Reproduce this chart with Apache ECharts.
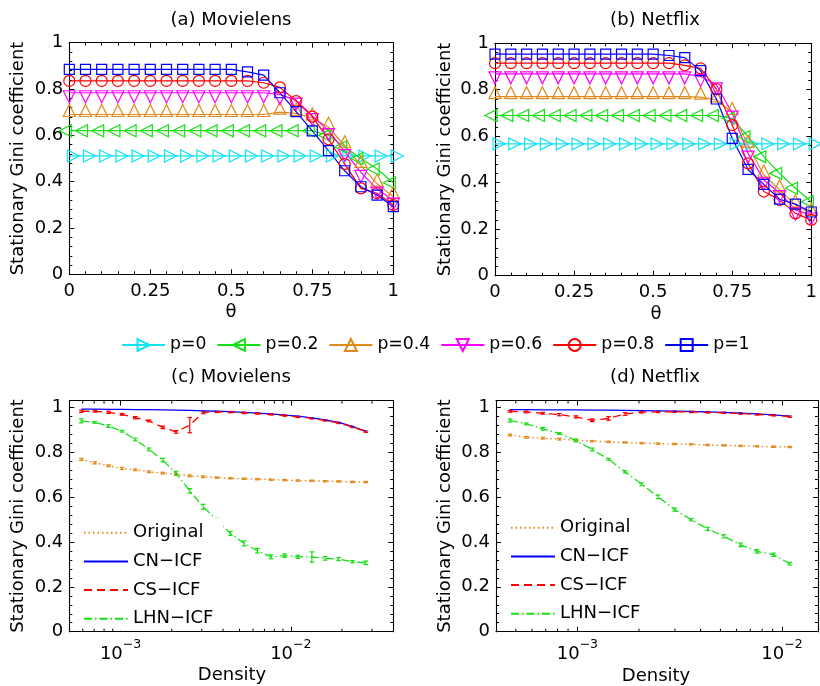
<!DOCTYPE html>
<html>
<head>
<meta charset="utf-8">
<script src="https://cdn.jsdelivr.net/npm/echarts@6/dist/echarts.min.js"></script>
<style>
html,body{margin:0;padding:0;background:#fff;}
#chart{width:820px;height:686px;}
</style>
</head>
<body>
<div id="chart"></div>
<script>
// ---------------- data ----------------
const theta = [0,0.05,0.1,0.15,0.2,0.25,0.3,0.35,0.4,0.45,0.5,0.55,0.6,0.65,0.7,0.75,0.8,0.85,0.9,0.95,1];
const pNames = ['p=0','p=0.2','p=0.4','p=0.6','p=0.8','p=1'];

// (a) Movielens
const movP0  = [0.511,0.511,0.511,0.511,0.511,0.511,0.511,0.511,0.511,0.511,0.511,0.511,0.511,0.511,0.511,0.511,0.511,0.511,0.511,0.511,0.511];
const movP02 = [0.620,0.620,0.620,0.620,0.620,0.620,0.620,0.620,0.620,0.620,0.620,0.620,0.620,0.620,0.620,0.620,0.600,0.550,0.500,0.455,0.395];
const movP04 = [0.690,0.690,0.690,0.690,0.690,0.690,0.690,0.690,0.690,0.690,0.690,0.690,0.690,0.700,0.695,0.675,0.635,0.555,0.470,0.390,0.335];
const movP06 = [0.784,0.784,0.784,0.784,0.784,0.784,0.784,0.784,0.784,0.784,0.784,0.784,0.784,0.776,0.752,0.685,0.620,0.530,0.440,0.368,0.320];
const movP08 = [0.835,0.835,0.835,0.835,0.835,0.835,0.835,0.835,0.835,0.835,0.835,0.835,0.827,0.807,0.748,0.681,0.583,0.476,0.371,0.350,0.299];
const movP1  = [0.885,0.885,0.885,0.885,0.885,0.885,0.885,0.885,0.885,0.885,0.885,0.874,0.860,0.784,0.702,0.619,0.534,0.447,0.378,0.342,0.292];

// (b) Netflix
const netP0  = [0.567,0.567,0.567,0.567,0.567,0.567,0.567,0.567,0.567,0.567,0.567,0.567,0.567,0.567,0.567,0.567,0.567,0.567,0.567,0.567,0.567];
const netP02 = [0.689,0.689,0.689,0.689,0.689,0.689,0.689,0.689,0.689,0.689,0.689,0.689,0.689,0.689,0.689,0.677,0.598,0.512,0.440,0.376,0.318];
const netP04 = [0.770,0.770,0.770,0.770,0.770,0.770,0.770,0.770,0.770,0.770,0.770,0.770,0.770,0.768,0.756,0.702,0.562,0.433,0.369,0.304,0.268];
const netP06 = [0.868,0.868,0.868,0.868,0.868,0.868,0.868,0.868,0.868,0.868,0.868,0.868,0.868,0.857,0.821,0.699,0.527,0.412,0.357,0.283,0.261];
const netP08 = [0.914,0.914,0.914,0.914,0.914,0.914,0.914,0.914,0.914,0.914,0.914,0.914,0.905,0.892,0.802,0.648,0.483,0.362,0.326,0.268,0.240];
const netP1  = [0.953,0.953,0.953,0.953,0.953,0.953,0.953,0.953,0.953,0.953,0.953,0.947,0.938,0.882,0.760,0.591,0.457,0.393,0.329,0.308,0.274];

// (c) Movielens, density
const densC = [5.88e-4,7.06e-4,8.49e-4,1.02e-3,1.22e-3,1.47e-3,1.77e-3,2.12e-3,2.55e-3,3.06e-3,3.68e-3,4.42e-3,5.31e-3,6.37e-3,7.65e-3,9.19e-3,1.10e-2,1.33e-2,1.59e-2,1.91e-2,2.30e-2,2.76e-2];
const cOrig   = [0.768,0.753,0.740,0.728,0.722,0.713,0.707,0.702,0.695,0.691,0.687,0.684,0.682,0.680,0.678,0.676,0.674,0.673,0.671,0.670,0.668,0.667];
const cOrigErr= [0.005,0.005,0.004,0.005,0.004,0.004,0.004,0.004,0.004,0.004,0.003,0.003,0.003,0.003,0.003,0.003,0.003,0.003,0.003,0.003,0.003,0.003];
const cCN     = [0.992,0.992,0.991,0.991,0.990,0.990,0.989,0.988,0.987,0.985,0.983,0.981,0.978,0.975,0.971,0.966,0.961,0.953,0.944,0.933,0.915,0.894];
const cCS     = [0.983,0.983,0.978,0.969,0.954,0.940,0.911,0.891,0.921,0.978,0.980,0.979,0.976,0.973,0.969,0.964,0.958,0.951,0.942,0.931,0.913,0.892];
const cCSErr  = [0.005,0.004,0.005,0.004,0.005,0.004,0.006,0.006,0.034,0.006,0.003,0.003,0.003,0.003,0.003,0.003,0.003,0.003,0.003,0.003,0.003,0.003];
const cLHN    = [0.940,0.933,0.917,0.894,0.857,0.813,0.765,0.706,0.628,0.557,0.498,0.438,0.394,0.361,0.334,0.339,0.334,0.333,0.327,0.324,0.312,0.307];
const cLHNErr = [0.009,0.004,0.006,0.004,0.006,0.006,0.008,0.009,0.010,0.011,0.008,0.009,0.011,0.010,0.009,0.008,0.007,0.023,0.008,0.007,0.005,0.008];

// (d) Netflix, density
const densD = [4.68e-4,5.63e-4,6.78e-4,8.16e-4,9.83e-4,1.18e-3,1.42e-3,1.71e-3,2.06e-3,2.48e-3,2.99e-3,3.60e-3,4.33e-3,5.21e-3,6.27e-3,7.55e-3,9.09e-3,1.09e-2];
const dOrig   = [0.876,0.866,0.862,0.858,0.853,0.849,0.846,0.843,0.840,0.838,0.836,0.835,0.832,0.830,0.828,0.826,0.824,0.823];
const dOrigErr= [0.004,0.004,0.004,0.004,0.004,0.003,0.003,0.003,0.003,0.003,0.003,0.003,0.003,0.003,0.003,0.003,0.003,0.003];
const dCN     = [0.989,0.989,0.988,0.988,0.988,0.987,0.987,0.986,0.985,0.984,0.983,0.981,0.979,0.977,0.974,0.970,0.966,0.960];
const dCS     = [0.982,0.979,0.973,0.967,0.957,0.942,0.950,0.970,0.978,0.979,0.980,0.979,0.977,0.975,0.972,0.968,0.964,0.958];
const dCSErr  = [0.004,0.004,0.004,0.005,0.005,0.006,0.008,0.006,0.004,0.003,0.003,0.003,0.003,0.003,0.003,0.003,0.003,0.003];
const dLHN    = [0.941,0.926,0.904,0.883,0.852,0.812,0.768,0.712,0.657,0.601,0.544,0.499,0.458,0.425,0.387,0.358,0.343,0.303];
const dLHNErr = [0.007,0.004,0.006,0.004,0.006,0.006,0.004,0.005,0.006,0.008,0.007,0.005,0.007,0.007,0.008,0.008,0.007,0.006];

const bottomNames = ['Original','CN\u2212ICF','CS\u2212ICF','LHN\u2212ICF'];
const thetaTicks = [0,0.25,0.5,0.75,1];
const logMinorC = [6e-4,7e-4,8e-4,9e-4,2e-3,3e-3,4e-3,5e-3,6e-3,7e-3,8e-3,9e-3,2e-2,3e-2];
const logMinorD = [5e-4,6e-4,7e-4,8e-4,9e-4,2e-3,3e-3,4e-3,5e-3,6e-3,7e-3,8e-3,9e-3];

// ---------------- styling ----------------
const FONT = 'DejaVu Sans';
const C = {cyan:'#12e2f2', green:'#14e014', orange:'#e0891c', magenta:'#ff00ff', red:'#ff0000', blue:'#0000ff'};
const G = [
  {left:69.3, top:42.7, width:324, height:231.6},
  {left:495, top:43.2, width:323.3, height:232.5},
  {left:69.3, top:400.7, width:324, height:231},
  {left:496, top:400.5, width:322, height:231.2}
];

function linAxisX(gi, pos) {
  return {
    type:'value', gridIndex:gi, position:pos, min:0, max:1, interval:0.25,
    axisLine:{show:true, onZero:false, lineStyle:{color:'#000', width:1.1}},
    axisTick:{show:true, inside:true, length:5, lineStyle:{color:'#000'}},
    minorTick:{show:true, splitNumber:5, length:3, lineStyle:{color:'#000'}},
    axisLabel:{show:pos==='bottom', fontFamily:FONT, fontSize:18, color:'#000', margin:8},
    splitLine:{show:false}, minorSplitLine:{show:false}
  };
}
function linAxisY(gi, pos, max) {
  return {
    type:'value', gridIndex:gi, position:pos, min:0, max:max, interval:0.2,
    axisLine:{show:true, onZero:false, lineStyle:{color:'#000', width:1.1}},
    axisTick:{show:true, inside:true, length:5, lineStyle:{color:'#000'}},
    minorTick:{show:true, splitNumber:5, length:3, lineStyle:{color:'#000'}},
    axisLabel:{show:pos==='left', fontFamily:FONT, fontSize:18, color:'#000', margin:6, showMaxLabel: max===1,
      formatter: v => (Math.abs(v*5 - Math.round(v*5)) < 1e-6 ? String(+v.toFixed(1)) : '')},
    splitLine:{show:false}, minorSplitLine:{show:false}
  };
}
function logAxisX(gi, pos, mn, mx) {
  return {
    type:'log', logBase:10, gridIndex:gi, position:pos, min:mn, max:mx,
    axisLine:{show:true, onZero:false, lineStyle:{color:'#000', width:1.1}},
    axisTick:{show:true, inside:true, length:5, lineStyle:{color:'#000'}},
    axisLabel:{show:pos==='bottom', margin:7, showMinLabel:false, showMaxLabel:false,
      formatter: v => { const l = Math.log10(v); const e = Math.round(l);
        if (Math.abs(l-e) > 1e-6) return '';
        return '{b|10}{s|' + (e<0 ? '\u2212' : '') + Math.abs(e) + '}'; },
      rich:{
        b:{fontFamily:FONT, fontSize:18, color:'#000', lineHeight:25, verticalAlign:'bottom'},
        s:{fontFamily:FONT, fontSize:12.5, color:'#000', lineHeight:25, verticalAlign:'top'}
      }},
    splitLine:{show:false}
  };
}

const xAxes = [
  linAxisX(0,'bottom'), linAxisX(0,'top'),
  linAxisX(1,'bottom'), linAxisX(1,'top'),
  logAxisX(2,'bottom',5e-4,4e-2), logAxisX(2,'top',5e-4,4e-2),
  logAxisX(3,'bottom',4e-4,1.5e-2), logAxisX(3,'top',4e-4,1.5e-2)
];
const yAxes = [
  linAxisY(0,'left',1), linAxisY(0,'right',1),
  linAxisY(1,'left',1), linAxisY(1,'right',1),
  linAxisY(2,'left',1.03), linAxisY(2,'right',1.03),
  linAxisY(3,'left',1.03), linAxisY(3,'right',1.03)
];

const markerDefs = [
  {name:pNames[0], color:C.cyan,    symbol:'triangle', rotate:-90, offset:[4,0],  size:12},
  {name:pNames[1], color:C.green,   symbol:'triangle', rotate:90,  offset:[-4,0], size:12},
  {name:pNames[2], color:C.orange,  symbol:'triangle', rotate:0,   offset:[0,-4], size:12},
  {name:pNames[3], color:C.magenta, symbol:'triangle', rotate:180, offset:[0,4],  size:12},
  {name:pNames[4], color:C.red,     symbol:'circle',   rotate:0,   offset:[0,0],  size:11},
  {name:pNames[5], color:C.blue,    symbol:'rect',     rotate:0,   offset:[0,0],  size:10}
];
const movSeries = [movP0, movP02, movP04, movP06, movP08, movP1];
const netSeries = [netP0, netP02, netP04, netP06, netP08, netP1];

const series = [];
function addTop(ai, vals) {
  markerDefs.forEach((m, k) => {
    series.push({
      type:'line', name:m.name, xAxisIndex:ai, yAxisIndex:ai,
      data: theta.map((t,i) => [t, vals[k][i]]),
      symbol:m.symbol, symbolSize:m.size, symbolRotate:m.rotate, symbolOffset:m.offset,
      showAllSymbol:true, silent:true, animation:false,
      lineStyle:{color:m.color, width:1.2},
      itemStyle:{color:'rgba(255,255,255,0)', borderColor:m.color, borderWidth:1.2}
    });
  });
}
addTop(0, movSeries);
addTop(2, netSeries);

function errSeries(ai, xs, ys, es, color) {
  return {
    type:'custom', xAxisIndex:ai, yAxisIndex:ai, silent:true, animation:false, z:3,
    data: xs.map((x,i) => [x, ys[i], es[i]]),
    encode:{x:0, y:1},
    renderItem: (params, api) => {
      const x = api.value(0), y = api.value(1), e = api.value(2);
      const t = api.coord([x, y+e]), b = api.coord([x, y-e]);
      const w = 2.3, st = {stroke:color, lineWidth:1.2};
      return {type:'group', children:[
        {type:'line', shape:{x1:t[0], y1:t[1], x2:b[0], y2:b[1]}, style:st},
        {type:'line', shape:{x1:t[0]-w, y1:t[1], x2:t[0]+w, y2:t[1]}, style:st},
        {type:'line', shape:{x1:b[0]-w, y1:b[1], x2:b[0]+w, y2:b[1]}, style:st}
      ]};
    }
  };
}
function minorTicks(ai, vals, ymax) {
  return {
    type:'custom', xAxisIndex:ai, yAxisIndex:ai, silent:true, animation:false, z:5,
    data: vals.map(v => [v, 0]), encode:{x:0, y:1},
    renderItem: (params, api) => {
      const b = api.coord([api.value(0), 0]), t = api.coord([api.value(0), ymax]);
      const st = {stroke:'#000', lineWidth:1};
      return {type:'group', children:[
        {type:'line', shape:{x1:b[0], y1:b[1], x2:b[0], y2:b[1]-3}, style:st},
        {type:'line', shape:{x1:t[0], y1:t[1], x2:t[0], y2:t[1]+3}, style:st}
      ]};
    }
  };
}
function addBottom(ai, xs, orig, origErr, cn, cs, csErr, lhn, lhnErr, minorVals) {
  series.push({type:'line', name:bottomNames[0], xAxisIndex:ai, yAxisIndex:ai, data:xs.map((x,i)=>[x,orig[i]]),
    symbol:'none', silent:true, animation:false, lineStyle:{color:C.orange, width:1.4, type:[1.5,3]}, itemStyle:{color:C.orange}});
  series.push({type:'line', name:bottomNames[1], xAxisIndex:ai, yAxisIndex:ai, data:xs.map((x,i)=>[x,cn[i]]),
    symbol:'none', silent:true, animation:false, lineStyle:{color:C.blue, width:1.3, type:'solid'}, itemStyle:{color:C.blue}});
  series.push({type:'line', name:bottomNames[2], xAxisIndex:ai, yAxisIndex:ai, data:xs.map((x,i)=>[x,cs[i]]),
    symbol:'none', silent:true, animation:false, lineStyle:{color:C.red, width:1.3, type:[8,5]}, itemStyle:{color:C.red}});
  series.push({type:'line', name:bottomNames[3], xAxisIndex:ai, yAxisIndex:ai, data:xs.map((x,i)=>[x,lhn[i]]),
    symbol:'none', silent:true, animation:false, lineStyle:{color:C.green, width:1.3, type:[8,3,1.5,3]}, itemStyle:{color:C.green}});
  series.push(errSeries(ai, xs, orig, origErr, C.orange));
  series.push(errSeries(ai, xs, cs, csErr, C.red));
  series.push(errSeries(ai, xs, lhn, lhnErr, C.green));
  series.push(minorTicks(ai, minorVals, 1.03));
}
addBottom(4, densC, cOrig, cOrigErr, cCN, cCS, cCSErr, cLHN, cLHNErr, logMinorC);
addBottom(6, densD, dOrig, dOrigErr, dCN, dCS, dCSErr, dLHN, dLHNErr, logMinorD);

function txt(s, x, y, rot) {
  return {type:'text', x:x, y:y, rotation:rot||0, silent:true, z:10,
    style:{text:s, font:'18px "DejaVu Sans"', fill:'#000', textAlign:'center', textVerticalAlign:'middle'}};
}

const bottomLegend = (left, top) => ({
  data:bottomNames, left:left, top:top, padding:[6,10,3,8], orient:'vertical',
  itemWidth:44, itemHeight:14, itemGap:10.7,
  itemStyle:{opacity:0}, backgroundColor:'#fff',
  textStyle:{fontFamily:FONT, fontSize:18, color:'#000', lineHeight:16}, selectedMode:false
});

const option = {
  animation:false,
  backgroundColor:'#fff',
  grid: G.map(g => Object.assign({containLabel:false}, g)),
  xAxis: xAxes,
  yAxis: yAxes,
  legend: [
    {data:pNames, left:121, top:336.5, padding:0, orient:'horizontal', itemWidth:43, itemHeight:15, itemGap:10,
     textStyle:{fontFamily:FONT, fontSize:17.3, color:'#000'}, selectedMode:false},
    bottomLegend(75, 517.7),
    bottomLegend(502, 512.7)
  ],
  graphic: [
    txt('(a) Movielens', 231, 20.5),
    txt('(b) Netflix', 655, 20.7),
    txt('(c) Movielens', 231, 377),
    txt('(d) Netflix', 655, 377),
    txt('\u03b8', 231, 312),
    txt('\u03b8', 656, 314),
    txt('Density', 232, 675),
    txt('Density', 656, 676),
    txt('Stationary Gini coefficient', 18, 158.5, Math.PI/2),
    txt('Stationary Gini coefficient', 445, 159.5, Math.PI/2),
    txt('Stationary Gini coefficient', 18, 516, Math.PI/2),
    txt('Stationary Gini coefficient', 445, 516, Math.PI/2)
  ],
  series: series
};

const chart = echarts.init(document.getElementById('chart'), null, {renderer:'canvas'});
chart.setOption(option);
</script>
</body>
</html>
